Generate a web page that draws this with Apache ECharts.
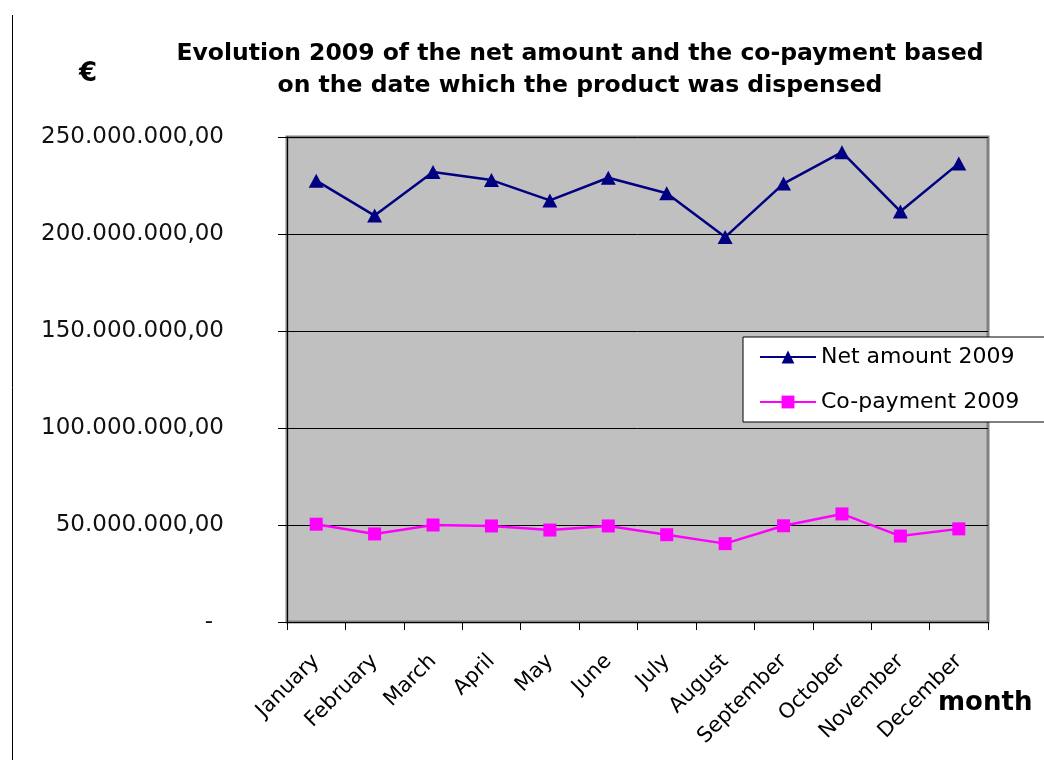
<!DOCTYPE html>
<html>
<head>
<meta charset="utf-8">
<script src="https://cdn.jsdelivr.net/npm/echarts@6/dist/echarts.min.js"></script>
<style>
  html, body { margin: 0; padding: 0; background: #ffffff; }
  #chart { width: 1044px; height: 773px; }
</style>
</head>
<body>
<div id="chart"></div>
<script>
// Monthly figures for 2009, in euro
const months = ['January', 'February', 'March', 'April', 'May', 'June',
  'July', 'August', 'September', 'October', 'November', 'December'];
const netAmount2009 = [227500000, 209500000, 232000000, 227800000, 217300000, 229000000,
  221000000, 198400000, 226000000, 242200000, 211600000, 236400000];
const coPayment2009 = [50400000, 45400000, 50000000, 49500000, 47400000, 49500000,
  45000000, 40400000, 49600000, 55700000, 44300000, 48000000];
const yTicks = { min: 0, max: 250000000, step: 50000000 };

// 250000000 -> "250.000.000,00"; zero is shown as a dash
function euroLabel(v) {
  if (v === 0) return '{z|-}';
  const s = Math.round(v).toString().replace(/\B(?=(\d{3})+(?!\d))/g, '.');
  return s + ',00';
}

const chart = echarts.init(document.getElementById('chart'), null, { renderer: 'canvas' });
const font = '"DejaVu Sans", sans-serif';

chart.setOption({
  backgroundColor: '#ffffff',
  animation: false,
  title: {
    text: 'Evolution 2009 of the net amount and the co-payment based\non the date which the product was dispensed',
    left: 575,
    top: 33,
    textAlign: 'center',
    textStyle: { fontFamily: font, fontWeight: 'bold', fontSize: 23.5, lineHeight: 32, color: '#000' }
  },
  legend: {
    orient: 'vertical',
    left: 743,
    top: 337,
    padding: [9, 30, 9, 16],
    itemWidth: 56,
    itemHeight: 16,
    itemGap: 23,
    backgroundColor: '#ffffff',
    borderColor: '#000000',
    borderWidth: 1,
    borderRadius: 0,
    textStyle: { fontFamily: font, fontSize: 22, color: '#000' },
    data: ['Net amount 2009', 'Co-payment 2009']
  },
  grid: {
    left: 287, right: 56, top: 137, bottom: 151,
    show: true,
    backgroundColor: '#C0C0C0',
    borderColor: '#808080',
    borderWidth: 3
  },
  xAxis: {
    type: 'category',
    data: months,
    boundaryGap: true,
    axisLine: { show: true, lineStyle: { color: '#000', width: 1 } },
    axisTick: { show: true, interval: 0, length: 8, lineStyle: { color: '#000' } },
    axisLabel: {
      interval: 0, rotate: 45, margin: 36,
      fontFamily: font, fontSize: 21, color: '#000'
    },
    splitLine: { show: false }
  },
  yAxis: {
    type: 'value',
    min: yTicks.min, max: yTicks.max, interval: yTicks.step,
    axisLine: { show: true, lineStyle: { color: '#000', width: 1 } },
    axisTick: { show: true, length: 9, lineStyle: { color: '#000' } },
    axisLabel: {
      margin: 63,
      fontFamily: font, fontSize: 23, color: '#111',
      formatter: euroLabel,
      rich: { z: { fontFamily: font, fontSize: 23, color: '#111', padding: [0, 11, 0, 0] } }
    },
    splitLine: { show: true, lineStyle: { color: '#000', width: 1 } }
  },
  series: [
    {
      name: 'Net amount 2009',
      type: 'line',
      data: netAmount2009,
      color: '#000080',
      symbol: 'triangle',
      symbolSize: [15, 14],
      lineStyle: { color: '#000080', width: 2.5 },
      itemStyle: { color: '#000080' },
      z: 3
    },
    {
      name: 'Co-payment 2009',
      type: 'line',
      data: coPayment2009,
      color: '#FF00FF',
      symbol: 'rect',
      symbolSize: 13,
      lineStyle: { color: '#FF00FF', width: 2.5 },
      itemStyle: { color: '#FF00FF' },
      z: 3
    }
  ],
  graphic: [
    { type: 'line', shape: { x1: 12.5, y1: 15, x2: 12.5, y2: 760 }, style: { stroke: '#000', lineWidth: 1 } },
    { type: 'text', left: 79, top: 61, style: { text: '€', fontFamily: font, fontWeight: 'bold', fontSize: 26, fill: '#000' } },
    { type: 'text', left: 938, top: 690, style: { text: 'month', fontFamily: font, fontWeight: 'bold', fontSize: 26, fill: '#000' } }
  ]
});
</script>
</body>
</html>
